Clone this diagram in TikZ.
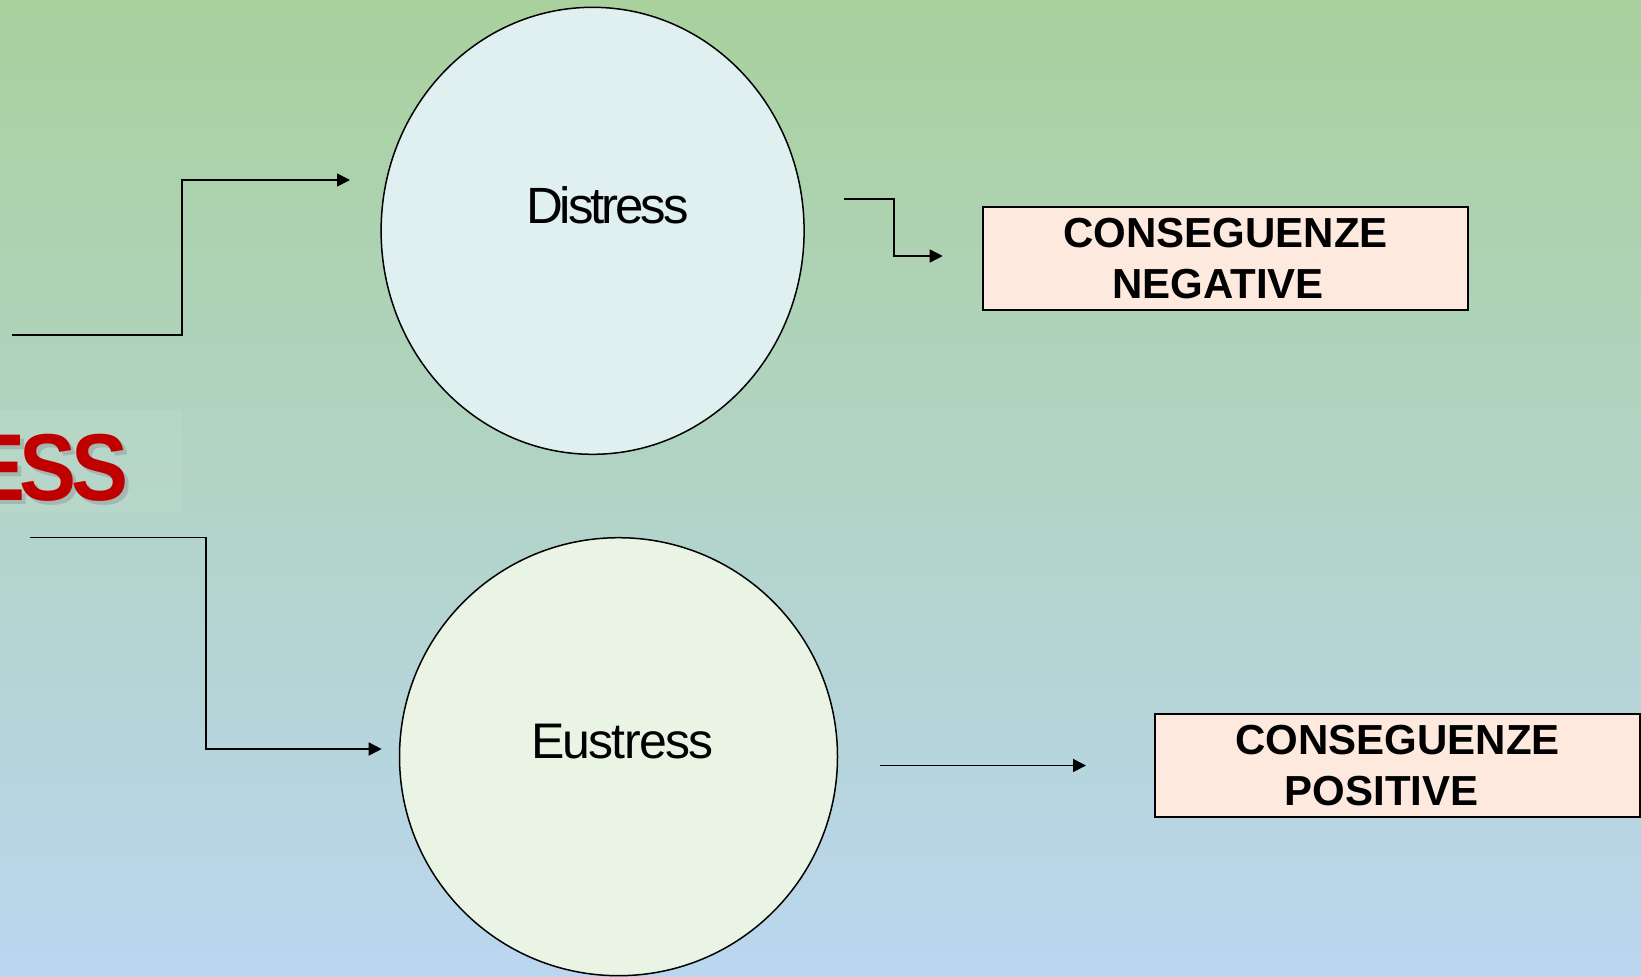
\documentclass[tikz,border=0pt]{standalone}
\usepackage{fontspec}
\setmainfont{Liberation Sans}
\newfontfamily\tightsans[LetterSpace=-6]{Liberation Sans}
\newfontfamily\semitightsans[LetterSpace=-3.5]{Liberation Sans}
\newfontfamily\tightbold[LetterSpace=-6]{Liberation Sans Bold}
\usetikzlibrary{arrows.meta,shapes.geometric}
\definecolor{bgtop}{RGB}{169,209,157}
\definecolor{bgbot}{RGB}{187,214,240}
\definecolor{distfill}{RGB}{224,240,240}
\definecolor{eufill}{RGB}{233,244,228}
\definecolor{boxfill}{RGB}{253,233,222}
\definecolor{stressred}{RGB}{192,0,0}
\tikzset{
  conn/.style={line width=1.6pt, -{Triangle[length=13pt,width=13pt]}},
  bubble/.style={ellipse, draw=black, line width=1.5pt, inner sep=0pt},
  consbox/.style={draw=black, line width=1.5pt, fill=boxfill, inner sep=0pt,
    minimum width=485pt, minimum height=103pt, align=center,
    font=\bfseries\fontsize{42}{51}\selectfont},
  bubbletext/.style={anchor=base, inner sep=0pt}
}
\begin{document}
\begin{tikzpicture}[x=1pt,y=-1pt]
\useasboundingbox (0,0) rectangle (1641,977);
\fill[top color=bgtop, bottom color=bgbot] (0,0) rectangle (1641,977);
\begin{scope}
\clip (0,0) rectangle (1641,977);
\fill[white, opacity=0.07] (0,410) rectangle (182,513);
\node[anchor=base east, inner sep=0pt, text=gray, opacity=0.35, xscale=0.9,
  font=\tightbold\fontsize{95}{95}\selectfont] (stressshadow) at (133,504) {STRESS};
\node[anchor=base east, inner sep=0pt, text=stressred, xscale=0.9,
  font=\tightbold\fontsize{95}{95}\selectfont] (stress) at (129,500) {STRESS};
% circles
\node[bubble, fill=distfill, minimum width=423pt, minimum height=447pt] (distress) at (592.6,230.8) {};
\node[bubble, fill=eufill, minimum width=438pt, minimum height=438pt] (eustress) at (618.5,756.7) {};
\node[bubbletext, font=\tightsans\fontsize{51}{51}\selectfont] (distresslabel) at (607.5,223.3) {Distress};
\node[bubbletext, font=\semitightsans\fontsize{50}{50}\selectfont] (eustresslabel) at (622.2,758.3) {Eustress};
% boxes
\node[consbox] (neg) at (1225.5,258.3) {CONSEGUENZE\\NEGATIVE\hspace*{15pt}};
\node[consbox] (pos) at (1397.5,765.3) {CONSEGUENZE\\POSITIVE\hspace*{32pt}};
% connector end points
\coordinate (a0) at (12.3,335);
\coordinate (a1) at (350,180);
\coordinate (b0) at (844.3,199);
\coordinate (b1) at (942.7,256);
\coordinate (c0) at (30,537.5);
\coordinate (c1) at (381.7,749);
\coordinate (d0) at (880,765.5);
\coordinate (d1) at (1086,765.5);
\draw[conn] (a0) -- (181.7,335) -- (181.7,180) -- (a1);
\draw[conn] (b0) -- (894,199) -- (894,256) -- (b1);
\draw[conn] (c0) -- (206,537.5) -- (206,749) -- (c1);
\draw[conn] (d0) -- (d1);
\end{scope}
\end{tikzpicture}
\end{document}
